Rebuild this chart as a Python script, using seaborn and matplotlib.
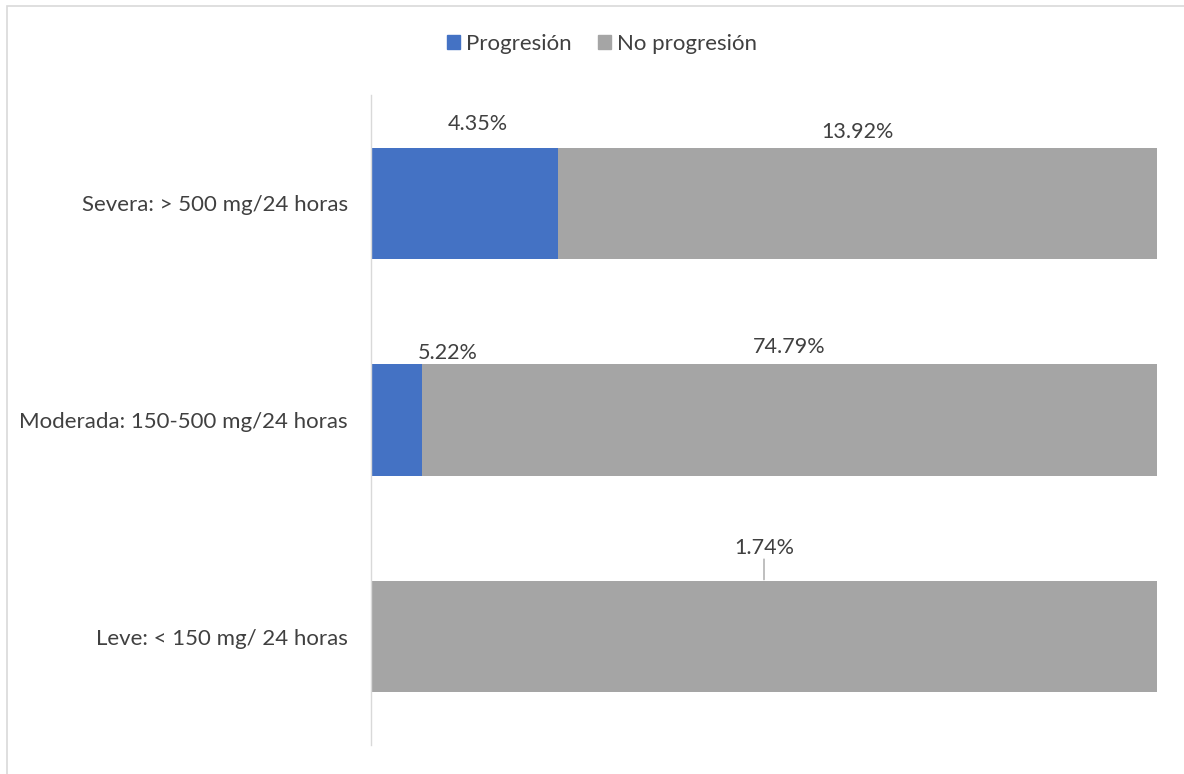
import matplotlib
matplotlib.use("Agg")
import matplotlib.pyplot as plt
import matplotlib.patches as mpatches
import seaborn as sns
import pandas as pd
import numpy as np

categories = ["Severa: > 500 mg/24 horas", "Moderada: 150-500 mg/24 horas", "Leve: < 150 mg/ 24 horas"]
progresion = [4.35, 5.22, 0.0]
no_progresion = [13.92, 74.79, 1.74]
series_names = ["Progresión", "No progresión"]

sns.set_theme(style="white")
plt.rcParams['font.family'] = ['Lato', 'DejaVu Sans']

BLUE = "#4472C4"
GRAY = "#A5A5A5"
TXT = "#404040"

df = pd.DataFrame({"cat": categories, "prog": progresion, "noprog": no_progresion})
df["total"] = df["prog"] + df["noprog"]
df["prog_share"] = df["prog"] / df["total"] * 100
df["full"] = 100.0

fig = plt.figure(figsize=(11.84, 7.74), dpi=100)
ax = fig.add_axes([371/1184, 1 - 745/774, (1157 - 371)/1184, 650/774])

sns.barplot(data=df, y="cat", x="full", color=GRAY, orient="h", width=0.513,
            ax=ax, saturation=1, edgecolor="none")
sns.barplot(data=df, y="cat", x="prog_share", color=BLUE, orient="h", width=0.513,
            ax=ax, saturation=1, edgecolor="none")

ax.set_xlim(0, 100)
ax.set_ylim(2.5, -0.5)
ax.set_xlabel("")
ax.set_ylabel("")
ax.set_xticks([])
ax.tick_params(axis="y", length=0, pad=16.5, labelsize=16, labelcolor=TXT)
for s in ["top", "right", "bottom"]:
    ax.spines[s].set_visible(False)
ax.spines["left"].set_color("#D9D9D9")
ax.spines["left"].set_linewidth(1.0)

half = 0.513 / 2
px = 72 / 100  # points per pixel
label_specs = []
for i in range(len(categories)):
    p = df.loc[i, "prog_share"]
    label_specs.append((progresion[i], p / 2, i))
    label_specs.append((no_progresion[i], p + (100 - p) / 2, i))
offsets = {
    (0, 0): (13, 24), (0, 1): (0, 16),
    (1, 0): (51, 11), (1, 1): (0, 17),
    (2, 1): (0, 33),
}
for k, (val, xc, i) in enumerate(label_specs):
    key = (i, k % 2)
    if val == 0 or key not in offsets:
        continue
    dx, dy = offsets[key]
    ax.annotate(f"{val:.2f}%", xy=(xc, i - half), xytext=(dx * px, dy * px),
                textcoords="offset points", ha="center", va="center",
                fontsize=15.5, color=TXT, annotation_clip=False)
ax.annotate("", xy=(df.loc[2, "prog_share"] + (100 - df.loc[2, "prog_share"]) / 2, 2 - half),
            xytext=(0, 22 * px), textcoords="offset points",
            arrowprops=dict(arrowstyle="-", color=GRAY, lw=1.0, shrinkA=0, shrinkB=1),
            annotation_clip=False)

handles = [mpatches.Patch(color=BLUE, label=series_names[0]),
           mpatches.Patch(color=GRAY, label=series_names[1])]
leg = fig.legend(handles=handles, loc="center", bbox_to_anchor=(602/1184, 1 - 44/774),
                 ncol=2, frameon=False, fontsize=16, handlelength=0.6, handleheight=0.6,
                 handletextpad=0.25, columnspacing=1.2)
for t in leg.get_texts():
    t.set_color(TXT)

fig.patches.append(mpatches.Rectangle((7/1184, -0.01), 1.02, 1 - 5.5/774 + 0.01,
                                      transform=fig.transFigure, fill=False,
                                      edgecolor="#D9D9D9", lw=1.2))

fig.savefig("out.png", dpi=100)
